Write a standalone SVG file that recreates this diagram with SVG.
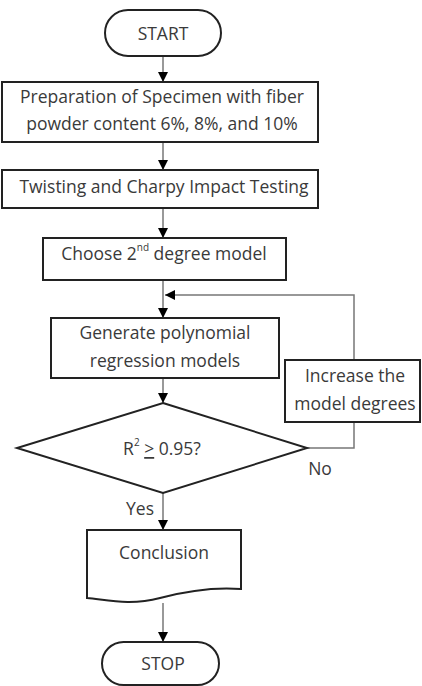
<svg xmlns="http://www.w3.org/2000/svg" width="422" height="686" viewBox="0 0 422 686">
<defs>
<marker id="ah" viewBox="0 0 10 10" refX="10" refY="5" markerWidth="10" markerHeight="10" markerUnits="userSpaceOnUse" orient="auto">
<path d="M0,0 L10,5 L0,10 Z" fill="#000"/>
</marker>
<style>
.box{fill:#fff;stroke:#222;stroke-width:2}
.t{font-family:"Open Sans","Liberation Sans",Arial,sans-serif;font-size:17.5px;fill:#3a3a3a;text-anchor:middle;dominant-baseline:central}
.c{fill:none;stroke:#777;stroke-width:1.5}
</style>
</defs>
<rect width="422" height="686" fill="#fff"/>
<g id="connectors">
<line class="c" x1="163" y1="56" x2="163" y2="82" marker-end="url(#ah)"/>
<line class="c" x1="163" y1="142" x2="163" y2="170" marker-end="url(#ah)"/>
<line class="c" x1="163" y1="208" x2="163" y2="238" marker-end="url(#ah)"/>
<line class="c" x1="163" y1="280" x2="163" y2="318" marker-end="url(#ah)"/>
<polyline class="c" points="354,360 354,295 165,295" marker-end="url(#ah)"/>
<line class="c" x1="163" y1="378" x2="163" y2="403" marker-end="url(#ah)"/>
<polyline class="c" points="307,448 354,448 354,422"/>
<line class="c" x1="163" y1="493" x2="163" y2="530" marker-end="url(#ah)"/>
<line class="c" x1="163" y1="603" x2="163" y2="642" marker-end="url(#ah)"/>
<text class="t" x="320" y="468">No</text>
<text class="t" x="140" y="508">Yes</text>
</g>
<g id="start">
<rect class="box" x="105" y="10" width="116" height="46" rx="23"/>
<text class="t" x="163" y="33" font-size="16">START</text>
</g>
<g id="prep">
<rect class="box" x="2" y="82" width="316" height="60"/>
<text class="t" x="162" y="96">Preparation of Specimen with fiber</text>
<text class="t" x="162" y="123">powder content 6%, 8%, and 10%</text>
</g>
<g id="testing">
<rect class="box" x="2" y="170" width="316" height="38"/>
<text class="t" x="164" y="186">Twisting and Charpy Impact Testing</text>
</g>
<g id="choose">
<rect class="box" x="43" y="238" width="243" height="42"/>
<text class="t" x="164" y="253">Choose 2<tspan font-size="10" dy="-6">nd</tspan><tspan dy="6">  degree model</tspan></text>
</g>
<g id="generate">
<rect class="box" x="51" y="318" width="228" height="60"/>
<text class="t" x="165" y="332">Generate polynomial</text>
<text class="t" x="165" y="360">regression models</text>
</g>
<g id="increase">
<rect class="box" x="285" y="360" width="135" height="62"/>
<text class="t" x="355" y="375">Increase the</text>
<text class="t" x="355" y="403">model degrees</text>
</g>
<g id="decision">
<polygon class="box" points="163,403 307,448 163,493 17,448"/>
<text class="t" x="162" y="448">R<tspan font-size="10" dy="-6">2</tspan><tspan dy="6"> </tspan><tspan text-decoration="underline">&gt;</tspan> 0.95?</text>
</g>
<g id="conclusion">
<path class="box" d="M87,530 H241 V589 C215,587 190,590 160,598 C130,606 108,600 87,598 Z"/>
<text class="t" x="164" y="552">Conclusion</text>
</g>
<g id="stop">
<rect class="box" x="102" y="642" width="117" height="43" rx="21.5"/>
<text class="t" x="163" y="663" font-size="16">STOP</text>
</g>
</svg>
